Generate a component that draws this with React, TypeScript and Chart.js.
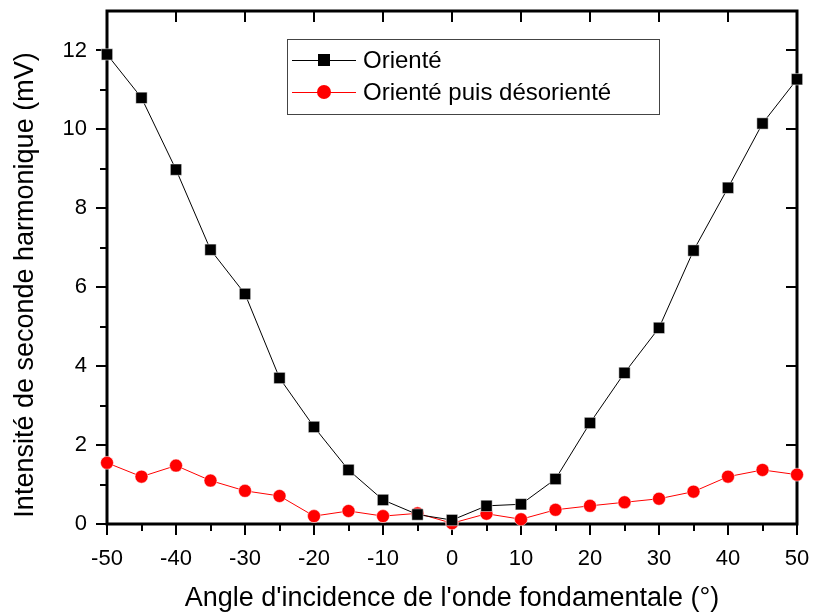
import React, { useEffect, useRef } from "react";
import { Chart, registerables } from "chart.js";

Chart.register(...registerables);

const angles = [-50, -45, -40, -35, -30, -25, -20, -15, -10, -5, 0, 5, 10, 15, 20, 25, 30, 35, 40, 45, 50];
const oriente = [11.9, 10.8, 8.98, 6.95, 5.83, 3.7, 2.46, 1.37, 0.61, 0.24, 0.1, 0.46, 0.5, 1.14, 2.56, 3.83, 4.97, 6.93, 8.52, 10.15, 11.27];
const desoriente = [1.55, 1.2, 1.48, 1.1, 0.84, 0.71, 0.2, 0.33, 0.2, 0.27, 0.02, 0.26, 0.12, 0.36, 0.46, 0.55, 0.64, 0.82, 1.2, 1.37, 1.25];
const seriesLabels = ["Orienté", "Orienté puis désorienté"];
const xTitle = "Angle d'incidence de l'onde fondamentale (°)";
const yTitle = "Intensité de seconde harmonique (mV)";

const FONT = "'Liberation Sans', Arial, sans-serif";

const framePlugin = {
  id: "frameTicks",
  beforeDatasetsDraw(chart: any) {
    const { ctx, chartArea: a, scales } = chart;
    const xs = scales.x;
    const ys = scales.y;
    ctx.save();
    ctx.strokeStyle = "#000";
    ctx.lineWidth = 2;
    ctx.beginPath();
    for (let v = -50; v <= 50; v += 5) {
      const px = Math.round(xs.getPixelForValue(v));
      const major = v % 10 === 0;
      ctx.moveTo(px, a.bottom);
      ctx.lineTo(px, a.bottom + (major ? 11 : 7));
      if (major) {
        ctx.moveTo(px, a.top);
        ctx.lineTo(px, a.top + 11);
      }
    }
    for (let v = 0; v <= 12; v += 1) {
      const py = Math.round(ys.getPixelForValue(v));
      const major = v % 2 === 0;
      ctx.moveTo(a.left, py);
      ctx.lineTo(a.left - (major ? 11 : 7), py);
      if (major) {
        ctx.moveTo(a.right, py);
        ctx.lineTo(a.right - 11, py);
      }
    }
    ctx.stroke();
    ctx.lineWidth = 3;
    ctx.strokeRect(a.left, a.top, a.right - a.left, a.bottom - a.top);

    // axis titles
    ctx.fillStyle = "#000";
    ctx.font = `27px ${FONT}`;
    ctx.textAlign = "center";
    ctx.textBaseline = "alphabetic";
    ctx.fillText(xTitle, (a.left + a.right) / 2, 606);
    ctx.save();
    ctx.translate(33, 285);
    ctx.rotate(-Math.PI / 2);
    ctx.fillText(yTitle, 0, 0);
    ctx.restore();
    ctx.restore();
  },
  afterDraw(chart: any) {
    const { ctx } = chart;
    const bx = 287, by = 39, bw = 372, bh = 75;
    ctx.save();
    ctx.fillStyle = "#fff";
    ctx.fillRect(bx, by, bw, bh);
    ctx.strokeStyle = "#444";
    ctx.lineWidth = 1;
    ctx.strokeRect(bx + 0.5, by + 0.5, bw, bh);
    chart.data.datasets.forEach((ds: any, i: number) => {
      const cy = 60 + i * 32;
      ctx.strokeStyle = ds.borderColor;
      ctx.lineWidth = 1;
      ctx.beginPath();
      ctx.moveTo(292, cy + 0.5);
      ctx.lineTo(356, cy + 0.5);
      ctx.stroke();
      ctx.fillStyle = ds.pointBackgroundColor;
      if (ds.pointStyle === "rect") {
        ctx.fillRect(318, cy - 6, 12, 12);
      } else {
        ctx.beginPath();
        ctx.arc(324, cy, 7, 0, Math.PI * 2);
        ctx.fill();
      }
      ctx.fillStyle = "#000";
      ctx.font = `24px ${FONT}`;
      ctx.textBaseline = "middle";
      ctx.textAlign = "left";
      ctx.fillText(ds.label, 363, cy + 1);
    });
    ctx.restore();
  },
};

export default function App() {
  const ref = useRef<HTMLCanvasElement>(null);
  useEffect(() => {
    if (!ref.current) return;
    const chart = new Chart(ref.current, {
      type: "scatter",
      data: {
        datasets: [
          {
            label: seriesLabels[0],
            data: angles.map((a, i) => ({ x: a, y: oriente[i] })),
            showLine: true,
            borderColor: "#000",
            borderWidth: 1,
            pointStyle: "rect",
            pointRadius: 8,
            pointBackgroundColor: "#000",
            pointBorderColor: "#fff",
            pointBorderWidth: 0.5,
            clip: false as any,
          },
          {
            label: seriesLabels[1],
            data: angles.map((a, i) => ({ x: a, y: desoriente[i] })),
            showLine: true,
            borderColor: "#ff0000",
            borderWidth: 1,
            pointStyle: "circle",
            pointRadius: 6.5,
            pointBackgroundColor: "#ff0000",
            pointBorderColor: "#fff",
            pointBorderWidth: 0.5,
            clip: false as any,
          },
        ] as any,
      },
      options: {
        responsive: false,
        animation: false,
        layout: { padding: { left: 0, top: 11, right: 17, bottom: 0 } },
        plugins: { legend: { display: false }, tooltip: { enabled: false } },
        scales: {
          x: {
            type: "linear",
            min: -50,
            max: 50,
            grid: { display: false },
            border: { display: false },
            ticks: {
              stepSize: 10,
              color: "#000",
              font: { family: FONT, size: 22 },
              padding: 14,
              maxRotation: 0,
            },
            title: { display: false },
            afterFit(s: any) {
              s.height = 89;
              s.paddingLeft = 0;
              s.paddingRight = 0;
            },
          },
          y: {
            type: "linear",
            min: 0,
            max: 13,
            grid: { display: false },
            border: { display: false },
            ticks: {
              stepSize: 2,
              includeBounds: false,
              color: "#000",
              font: { family: FONT, size: 22 },
              padding: 12,
            },
            title: { display: false },
            afterFit(s: any) {
              s.width = 107;
              s.paddingTop = 0;
              s.paddingBottom = 0;
            },
          },
        },
      } as any,
      plugins: [framePlugin],
    });
    return () => chart.destroy();
  }, []);
  return (
    <div style={{ position: "absolute", left: 0, top: 0, width: 814, height: 613, background: "#fff" }}>
      <canvas ref={ref} width={814} height={613} />
    </div>
  );
}
